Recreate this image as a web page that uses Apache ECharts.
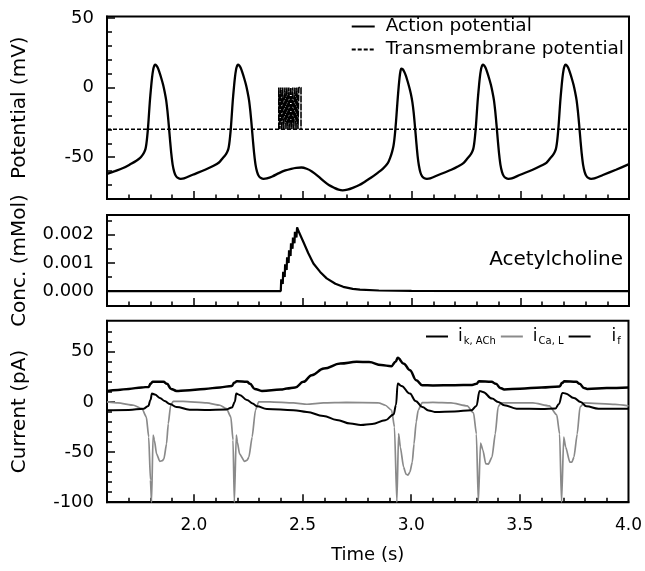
<!DOCTYPE html>
<html>
<head>
<meta charset="utf-8">
<script src="https://cdn.jsdelivr.net/npm/echarts@6/dist/echarts.min.js"></script>
<style>
  html, body { margin: 0; padding: 0; background: #fff; }
  #main { width: 645px; height: 571px; }
</style>
</head>
<body>
<div id="main"></div>
<script>
// [time (s), potential (mV)]
var actionPotential = [
  [1.600,-62],[1.636,-60],[1.674,-57.8],[1.711,-54.7],[1.735,-52.5],
  [1.751,-50.7],[1.763,-48.5],[1.771,-46.5],[1.777,-44],[1.781,-40.5],[1.785,-35],[1.789,-28],[1.793,-19],
  [1.797,-10],[1.802,-1],[1.807,7],[1.812,12.5],[1.817,15.5],[1.821,16.4],[1.827,15.8],[1.834,14],[1.842,10.5],
  [1.850,6.5],[1.858,2],[1.865,-3],[1.872,-9],[1.878,-17],[1.884,-27],[1.890,-38],[1.896,-48],[1.902,-55.5],
  [1.909,-60.5],[1.917,-63.5],[1.927,-65],[1.939,-65.5],[1.954,-65.2],
  [1.994,-62.6],[2.051,-59],[2.090,-56.2],[2.115,-53.8],
  [2.132,-50.7],[2.144,-48.5],[2.152,-46.5],[2.158,-44],[2.162,-40.5],[2.166,-35],[2.170,-28],[2.174,-19],
  [2.178,-10],[2.183,-1],[2.188,7],[2.193,12.5],[2.198,15.5],[2.202,16.4],[2.208,15.8],[2.215,14],[2.223,10.5],
  [2.231,6.5],[2.239,2],[2.246,-3],[2.253,-9],[2.259,-17],[2.265,-27],[2.271,-38],[2.277,-48],[2.283,-55.5],
  [2.290,-60.5],[2.298,-63.5],[2.308,-65],[2.320,-65.5],[2.335,-65.2],
  [2.360,-63.8],[2.391,-61.4],[2.420,-59.5],[2.447,-58.3],[2.470,-57.6],[2.494,-57.4],[2.518,-58.3],
  [2.542,-60.2],[2.570,-63.5],[2.598,-67.4],[2.620,-70],[2.645,-72],[2.665,-73.3],[2.683,-73.8],[2.705,-73.3],
  [2.730,-72],[2.760,-70],[2.787,-67.4],[2.815,-64.6],[2.843,-61.4],[2.870,-58],
  [2.891,-54.3],[2.903,-50],[2.911,-46],[2.917,-42],[2.921,-37.5],[2.925,-31.5],[2.929,-24],[2.933,-15.5],
  [2.937,-7],[2.941,0.5],[2.945,7],[2.949,11.5],[2.953,13.6],[2.959,13.2],[2.966,11.5],[2.974,8.5],[2.982,4.5],
  [2.990,0],[2.997,-4.5],[3.004,-10.5],[3.010,-18],[3.016,-28],[3.022,-39],[3.028,-49],[3.034,-56],[3.041,-61],
  [3.049,-63.8],[3.059,-65.1],[3.071,-65.5],[3.086,-65.2],
  [3.126,-62.6],[3.183,-59],[3.215,-56.5],[3.240,-54],
  [3.258,-50.7],[3.270,-48.5],[3.278,-46.5],[3.284,-44],[3.288,-40.5],[3.292,-35],[3.296,-28],[3.300,-19],
  [3.304,-10],[3.309,-1],[3.314,7],[3.319,12.5],[3.324,15.5],[3.328,16.4],[3.334,15.8],[3.341,14],[3.349,10.5],
  [3.357,6.5],[3.365,2],[3.372,-3],[3.379,-9],[3.385,-17],[3.391,-27],[3.397,-38],[3.403,-48],[3.409,-55.5],
  [3.416,-60.5],[3.424,-63.5],[3.434,-65],[3.446,-65.5],[3.461,-65.2],
  [3.500,-62.6],[3.557,-59],[3.600,-55.8],[3.620,-54],
  [3.638,-50.7],[3.650,-48.5],[3.658,-46.5],[3.664,-44],[3.668,-40.5],[3.672,-35],[3.676,-28],[3.680,-19],
  [3.684,-10],[3.689,-1],[3.694,7],[3.699,12.5],[3.704,15.5],[3.708,16.4],[3.714,15.8],[3.721,14],[3.729,10.5],
  [3.737,6.5],[3.745,2],[3.752,-3],[3.759,-9],[3.765,-17],[3.771,-27],[3.777,-38],[3.783,-48],[3.789,-55.5],
  [3.796,-60.5],[3.804,-63.5],[3.814,-65],[3.826,-65.5],[3.841,-65.2],
  [3.880,-62.8],[3.940,-59],[4.000,-55]
];

// transmembrane potential: rest level and stimulus pulses
var restLevel = -30;
var pulseLevel = 0;
var stimOn  = [2.390, 2.399, 2.408, 2.418, 2.427, 2.436, 2.445, 2.454, 2.464, 2.473, 2.482];
var stimOff = [2.395, 2.404, 2.413, 2.423, 2.432, 2.441, 2.450, 2.459, 2.469, 2.478, 2.492];

// [time (s), acetylcholine (mMol)]
var acetylcholine = [
  [1.600,0],[2.399,0],[2.401,0.00042],[2.408,0.00025],[2.410,0.00068],[2.417,0.0005],[2.419,0.00095],
  [2.426,0.00075],[2.428,0.0012],[2.435,0.001],[2.437,0.00145],[2.444,0.00125],[2.446,0.0017],
  [2.453,0.0015],[2.455,0.0019],[2.462,0.0017],[2.464,0.0021],[2.471,0.0019],[2.474,0.00226],
  [2.485,0.00205],[2.503,0.00174],[2.525,0.00135],[2.549,0.00098],[2.580,0.00068],[2.610,0.00045],
  [2.650,0.00026],[2.686,0.00015],[2.730,0.00008],[2.763,0.00005],[2.850,0.00002],[3.000,0.000005],[4.000,0]
];

// [time (s), current (pA)]
var iKACh = [
  [1.600,11],[1.650,12],[1.700,13],[1.760,14.5],[1.792,15],[1.800,18],[1.810,20],[1.860,20],[1.876,18],
  [1.895,13],[1.920,11],[1.960,11.5],[2.050,13],[2.120,14.5],[2.175,16],[2.185,19],[2.198,20.5],[2.245,20],
  [2.258,18],[2.280,13],[2.313,11],[2.400,12.3],[2.428,13.3],[2.466,14.3],[2.504,20],[2.542,26.7],[2.598,33.3],
  [2.674,38.3],[2.749,40],[2.806,39.7],[2.862,36.7],[2.909,35.7],[2.928,40],[2.938,44],[2.966,38],
  [2.994,31.7],[3.023,21.7],[3.051,16.7],[3.100,16.5],[3.200,16.7],[3.280,17],[3.300,18],[3.312,20.5],
  [3.370,20],[3.390,18],[3.410,14],[3.428,12.5],[3.500,13.2],[3.600,14.5],[3.683,15.5],[3.695,19],
  [3.705,20.5],[3.760,20],[3.775,18],[3.795,14],[3.810,13],[3.900,13.8],[4.000,14.5]
];
var iCaL = [
  [1.600,0],[1.650,-1],[1.723,-3.3],[1.761,-6.7],[1.781,-15],[1.792,-35],[1.800,-78],[1.805,-100],[1.812,-33],
  [1.818,-38],[1.828,-51.7],[1.843,-59.3],[1.855,-58.5],[1.862,-56.7],[1.874,-41.7],[1.882,-21.7],[1.893,-3.3],
  [1.905,0.5],[1.950,0.5],[2.059,-1],[2.120,-3.3],[2.150,-6.7],[2.170,-15],[2.180,-38],[2.186,-100],[2.195,-33],
  [2.200,-40],[2.210,-51.7],[2.233,-59.3],[2.245,-58],[2.253,-55],[2.268,-35],[2.283,-8.3],[2.298,0],[2.350,0],
  [2.458,-1],[2.520,-2.3],[2.596,-1],[2.700,-0.5],[2.850,-1],[2.881,-3.3],[2.910,-8.3],[2.923,-25],[2.934,-100],
  [2.942,-31.7],[2.950,-45],[2.965,-65],[2.976,-72],[2.985,-73],[2.994,-70],[3.005,-60],[3.013,-41.7],
  [3.023,-20],[3.032,-8.3],[3.051,-0.7],[3.100,-0.5],[3.183,-1],[3.258,-4],[3.287,-11],[3.300,-32],[3.309,-100],
  [3.319,-41],[3.330,-48],[3.343,-61.7],[3.355,-62],[3.372,-55],[3.387,-31.7],[3.400,-5],[3.413,-1],[3.560,-1],
  [3.636,-4],[3.670,-13],[3.683,-32],[3.692,-100],[3.702,-35],[3.711,-45],[3.730,-60],[3.740,-60],[3.749,-55],
  [3.764,-32],[3.777,-5],[3.796,-1],[3.938,-2.5],[4.000,-4]
];
var iF = [
  [1.600,-8.3],[1.700,-8],[1.769,-6.7],[1.790,-4],[1.800,2],[1.807,8.3],[1.820,7.5],[1.843,4],[1.865,1],
  [1.889,-2],[1.920,-5],[1.980,-7.7],[2.050,-8],[2.150,-7.5],[2.175,-5.5],[2.188,0],[2.195,8.3],[2.210,7],
  [2.244,2],[2.270,-1.5],[2.290,-4.3],[2.336,-7],[2.458,-8.3],[2.520,-10],[2.596,-14],[2.657,-18],[2.720,-21.5],
  [2.768,-23],[2.820,-22],[2.881,-18.3],[2.919,-12.5],[2.930,-3],[2.938,18.3],[2.955,16],[2.994,8.3],
  [3.020,1],[3.051,-5],[3.080,-8.5],[3.108,-10],[3.200,-9.5],[3.277,-8.3],[3.300,-4],[3.315,11],[3.330,10],
  [3.372,3.3],[3.400,0],[3.428,-3.3],[3.485,-6.7],[3.600,-7],[3.664,-6.5],[3.680,-2],[3.696,9],[3.710,8.5],
  [3.749,4],[3.780,0],[3.806,-4.3],[3.862,-6.7],[4.000,-6.7]
];

// axis ticks and labels
var timeLabels = [2.0, 2.5, 3.0, 3.5, 4.0];
var timeMajor = [2.0, 2.5, 3.0, 3.5];
var timeMinor = [1.7, 1.8, 1.9, 2.1, 2.2, 2.3, 2.4, 2.6, 2.7, 2.8, 2.9, 3.1, 3.2, 3.3, 3.4, 3.6, 3.7, 3.8, 3.9];
var potLabels = [-50, 0, 50];
var potMinor = [-70, -60, -40, -30, -20, -10, 10, 20, 30, 40];
var concLabels = [0, 0.001, 0.002];
var concMinor = [0.0005, 0.0015, 0.0025];
var curLabels = [-100, -50, 0, 50];
var curMinor = [-90, -80, -70, -60, -40, -30, -20, -10, 10, 20, 30, 40, 60, 70];

var legendNames = {
  'iKACh': '{i|i}{s|k, ACh}',
  'iCaL': '{i|i}{s|Ca, L}',
  'iF': '{i|i}{s|f}'
};

var FONT = 'DejaVu Sans';

// stimulus train drawn as its own trace, baseline stays dashed
var pulseData = [];
for (var k = 0; k < stimOn.length; k++) {
  pulseData.push([stimOn[k], restLevel], [stimOn[k], pulseLevel], [stimOff[k], pulseLevel], [stimOff[k], restLevel]);
}
var baseData = [[1.6, restLevel], [4.0, restLevel]];

var grids = [
  {left: 107, right: 16, top: 16.5, height: 182.5},
  {left: 107, right: 16, top: 215, height: 91},
  {left: 107, right: 16, top: 320.7, height: 181.5}
];
grids.forEach(function (g) {
  g.show = true;
  g.borderColor = '#000';
  g.borderWidth = 2;
  g.backgroundColor = 'transparent';
});

var xAxes = [];
var yAxes = [];
var yDefs = [
  {min: -80, max: 51, labels: potLabels, minor: potMinor, name: 'Potential (mV)', fmt: function (v) { return v; }},
  {min: -0.00053, max: 0.0027, labels: concLabels, minor: concMinor, name: 'Conc. (mMol)', fmt: function (v) { return v.toFixed(3); }},
  {min: -100, max: 81, labels: curLabels, minor: curMinor, name: 'Current (pA)', fmt: function (v) { return v; }}
];

for (var g = 0; g < 3; g++) {
  var last = g === 2;
  xAxes.push({
    type: 'value', gridIndex: g, min: 1.6, max: 4.0, position: 'bottom',
    name: last ? 'Time (s)' : '', nameLocation: 'middle', nameGap: 44,
    nameTextStyle: {fontFamily: FONT, fontSize: 18, color: '#000'},
    axisLine: {show: true, onZero: false, lineStyle: {color: '#000', width: 2}},
    axisTick: {show: true, inside: true, length: 8, customValues: timeMajor, lineStyle: {color: '#000', width: 1.5}},
    axisLabel: {show: last, customValues: timeLabels, margin: 15, fontFamily: FONT, fontSize: 17, color: '#000',
      formatter: function (v) { return v.toFixed(1); }},
    splitLine: {show: false}
  });
  xAxes.push({
    type: 'value', gridIndex: g, min: 1.6, max: 4.0, position: 'bottom',
    axisLine: {show: false, onZero: false},
    axisTick: {show: true, inside: true, length: 4.5, customValues: timeMinor, lineStyle: {color: '#000', width: 1.5}},
    axisLabel: {show: false},
    splitLine: {show: false}
  });
  var d = yDefs[g];
  yAxes.push({
    type: 'value', gridIndex: g, min: d.min, max: d.max, position: 'left',
    name: d.name, nameLocation: 'middle', nameGap: 77,
    nameTextStyle: {fontFamily: FONT, fontSize: 20, color: '#000'},
    axisLine: {show: true, onZero: false, lineStyle: {color: '#000', width: 2}},
    axisTick: {show: true, inside: true, length: 8, customValues: d.labels, lineStyle: {color: '#000', width: 1.5}},
    axisLabel: {show: true, customValues: d.labels, margin: 13, fontFamily: FONT, fontSize: 18, color: '#000', formatter: d.fmt},
    splitLine: {show: false}
  });
  yAxes.push({
    type: 'value', gridIndex: g, min: d.min, max: d.max, position: 'left',
    axisLine: {show: false, onZero: false},
    axisTick: {show: true, inside: true, length: 5, customValues: d.minor, lineStyle: {color: '#000', width: 1.5}},
    axisLabel: {show: false},
    splitLine: {show: false}
  });
}

var option = {
  animation: false,
  backgroundColor: '#fff',
  grid: grids,
  xAxis: xAxes,
  yAxis: yAxes,
  legend: [
    {
      data: ['Action potential', 'Transmembrane potential'],
      orient: 'vertical', right: 21, top: 17, padding: 0,
      itemWidth: 23, itemHeight: 14, itemGap: 4,
      itemStyle: {opacity: 0},
      textStyle: {fontFamily: FONT, fontSize: 18.5, color: '#000', padding: [0, 0, 0, 6]}
    },
    {
      data: [{name: 'iKACh'}, {name: 'iCaL'}, {name: 'iF', textStyle: {padding: [0, 0, 0, 16]}}],
      orient: 'horizontal', left: 425, top: 328, padding: 0,
      itemWidth: 22, itemHeight: 14, itemGap: 4,
      itemStyle: {opacity: 0},
      formatter: function (name) { return legendNames[name]; },
      textStyle: {
        fontFamily: FONT, color: '#000', padding: [0, 0, 0, 5],
        rich: {
          i: {fontFamily: FONT, fontSize: 17, color: '#000'},
          s: {fontFamily: FONT, fontSize: 10, color: '#000', padding: [9, 0, 0, 1]}
        }
      }
    }
  ],
  graphic: [
    {type: 'text', right: 22, top: 250,
      style: {text: 'Acetylcholine', fontFamily: FONT, fontSize: 20, fill: '#000'}}
  ],
  series: [
    {
      name: 'Action potential', type: 'line', xAxisIndex: 0, yAxisIndex: 0,
      data: actionPotential, showSymbol: false, symbol: 'none', smooth: 0.3,
      lineStyle: {color: '#000', width: 2.3}, itemStyle: {color: '#000'}
    },
    {
      name: 'Transmembrane potential', type: 'line', xAxisIndex: 0, yAxisIndex: 0,
      data: baseData, showSymbol: false, symbol: 'none',
      lineStyle: {color: '#000', width: 1.5, type: [4, 2]}, itemStyle: {color: '#000'}
    },
    {
      name: 'Transmembrane potential', type: 'line', xAxisIndex: 0, yAxisIndex: 0,
      data: pulseData, showSymbol: false, symbol: 'none',
      lineStyle: {color: '#000', width: 1.6, type: [7, 1]}, itemStyle: {color: '#000'}
    },
    {
      name: 'Acetylcholine', type: 'line', xAxisIndex: 2, yAxisIndex: 2,
      data: acetylcholine, showSymbol: false, symbol: 'none',
      lineStyle: {color: '#000', width: 2.2}, itemStyle: {color: '#000'}
    },
    {
      name: 'iKACh', type: 'line', xAxisIndex: 4, yAxisIndex: 4,
      data: iKACh, showSymbol: false, symbol: 'none', smooth: 0.4, smoothMonotone: 'x',
      lineStyle: {color: '#000', width: 2.5}, itemStyle: {color: '#000'}
    },
    {
      name: 'iCaL', type: 'line', xAxisIndex: 4, yAxisIndex: 4,
      data: iCaL, showSymbol: false, symbol: 'none', smooth: 0.2, smoothMonotone: 'x',
      lineStyle: {color: '#8a8a8a', width: 1.7}, itemStyle: {color: '#8a8a8a'}
    },
    {
      name: 'iF', type: 'line', xAxisIndex: 4, yAxisIndex: 4,
      data: iF, showSymbol: false, symbol: 'none', smooth: 0.4, smoothMonotone: 'x',
      lineStyle: {color: '#000', width: 2}, itemStyle: {color: '#000'}
    }
  ]
};

var myChart = echarts.init(document.getElementById('main'));
myChart.setOption(option);
</script>
</body>
</html>
